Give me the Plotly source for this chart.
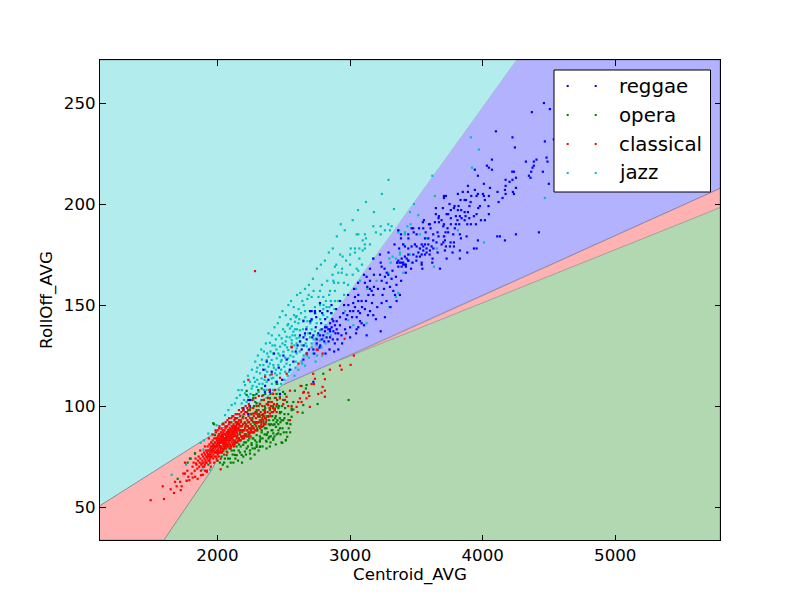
import plotly.graph_objects as go

X_RANGE = [1114, 5790]
Y_RANGE = [33.7, 271.3]
X_TICKS = [2000, 3000, 4000, 5000]
Y_TICKS = [50, 100, 150, 200, 250]
X_LABEL = "Centroid_AVG"
Y_LABEL = "RollOff_AVG"
GENRES = ["reggae", "opera", "classical", "jazz"]

# decision regions (feature-space vertices)
region_jazz = [(1114, 271.3), (4258, 271.3), (2494, 110.4), (2109, 92), (1114, 50.7)]
region_reggae = [(4258, 271.3), (5790, 271.3), (5790, 207.7), (2924, 122.8), (2494, 110.4)]
region_classical_low = [(1114, 50.7), (2109, 92), (1966, 69.3), (1597, 33.7), (1114, 33.7)]
region_classical_high = [(2924, 122.8), (5790, 207.7), (5790, 198.2)]
region_opera = [(1597, 33.7), (1966, 69.3), (2109, 92), (2494, 110.4), (2924, 122.8), (5790, 198.2), (5790, 33.7)]

reggae = [
(4100,236),(4225,233),(4243,228),(4469,231),(4482,223),(4489,221),(4406,222),(4386,221),(4326,221),(4386,219),
(4376,218),(4366,216),(4454,216),(4349,214),(4361,213),(4499,210),(4070,222),(4032,219),(4047,218),(4070,217),
(3941,217),(3964,214),(4223,216),(4236,216),(4251,213),(4225,212),(4203,211),(4173,212),(4173,209),(4168,207),
(4173,205),(4112,206),(4150,203),(4120,201),(4228,206),(4251,208),(4236,205),(4009,210),(4055,208),(3889,209),
(3941,207),(3889,206),(3964,205),(3954,204),(4002,205),(4009,204),(4017,202),(4047,204),(3813,205),(3723,204),
(3708,204),(3708,203),(3914,204),(3874,202),(3864,202),(3833,202),(3909,201),(3818,199),(3788,199),(3783,198),
(3760,197),(3647,198),(3979,199),(3967,198),(4044,199),(3864,196),(3889,196),(3838,197),(3813,197),(3954,195),
(4047,195),(3647,195),(3670,194),(3728,195),(3740,195),(3760,193),(3798,194),(3828,194),(3841,193),(3871,194),
(3899,193),(3934,194),(3667,193),(3690,192),(3670,191),(3557,192),(3549,191),(3595,190),(3602,190),(3552,188),
(3607,188),(3708,190),(3703,189),(3760,190),(3798,190),(3823,190),(3864,192),(3884,190),(3911,190),(3949,190),
(3987,192),(4017,192),(3464,188),(3476,188),(3735,188),(3740,186),(3660,186),(3627,185),(3667,184),(3708,184),
(3778,185),(3828,185),(3836,183),(3879,184),(3502,185),(3439,185),(3384,185),(3384,183),(3363,187),(3565,183),
(3590,183),(3627,182),(3715,182),(3652,181),(3703,181),(3690,180),(3758,181),(3783,181),(3964,182),(4110,184),
(4130,184),(4168,182),(4251,185),(4424,186),(3954,178),(3934,178),(3884,176),(3828,177),(3828,173),(3753,179),
(3783,179),(3723,179),(3715,177),(3773,176),(3728,173),(3678,168),(3622,173),(3620,171),(3540,180),(3565,180),
(3590,180),(3615,179),(3577,178),(3552,179),(3527,178),(3502,179),(3489,180),(3464,179),(3439,178),(3414,179),
(3628,178),(3602,177),(3577,176),(3552,177),(3515,176),(3540,175),(3565,175),(3527,174),(3502,174),(3477,175),
(3439,175),(3414,174),(3389,173),(3364,172),(3376,171),(3401,171),(3427,173),(3439,172),(3421,170),(3401,170),
(3364,169),(3356,171),(3389,169),(3421,169),(3472,171),(3540,171),(3540,170),(4462,250),(4371,245.5),(4507,247),
(4537,232),(3175,173),(3231,171),(3238,169),(3276,166),(3288,165),(3263,164),(3313,163),(3346,164),(3356,171),
(3389,171),(3414,170),(3439,172),(3125,164),(3150,162),(3112,161),(3130,159),(3150,158),(3180,159),(3163,157),
(3138,155),(3175,155),(3226,165),(3238,162),(3276,161),(3256,158),(3301,159),(3326,157),(3339,155),(3376,155),
(3351,152),(3062,155),(3037,154),(3087,152),(3062,152),(3024,151),(3238,151),(3205,149),(3150,147),(3112,148),
(3175,145),(3263,144),(2987,150),(3000,147),(3037,149),(3062,147),(3075,146),(3024,147),(3050,144),(2979,145),
(2949,146),(3087,141),(3105,140),(3050,138),(3062,139),(3231,137),(3125,135),(2924,144),(2899,142),(2874,142),
(2849,141),(2823,139),(2886,140),(2861,139),(2836,138),(2899,138),(2924,140),(2962,138),(3000,139),(2811,137),
(2786,138),(2874,137),(2849,137),(2798,135),(2773,135),(2823,134),(2849,134),(2911,128),(2710,147),(2735,147),
(2773,151),(2698,136),(2723,135),(2648,134),(2673,133),(2622,132),(2748,133),(2786,133),(2698,147),(2735,146),
(2773,147),(2648,142),(2710,143),(2622,135),(2660,136),(2811,139),(2849,138),(2748,131),(2723,128),(2673,126),
(2635,128),(2497,125),(2426,126),(2371,122),(2346,118),(2409,117),(2384,113),(2447,112),(2359,110),(2396,108),
(2233,103),(2245,100),(2195,99),(2723,112),(2522,123),(2572,122),(2358,107),(2395,107),(2471,106),(2245,103),
(2194,98),(2232,96),(2866,143),(2890,136),(2935,135),(2812,143),(2858,146),(2968,143),(2782,141),(2741,139),
(2905,133),(2838,132),(2885,131),(2769,129),(2648,123),(2604,130),(2590,127),(2545,118),(2488,113),(2462,119),
(2650,130),(2670,138),(2690,128),(2700,142),(2715,134),(2730,126),(2745,144),(2760,136),(2775,130),(2790,146),
(2805,132),(2815,126),(2830,147),(2845,128),(2860,150),(2870,133),(2880,127),(2895,148),(2910,136),(2925,152),
(2940,131),(2955,150),(2970,136),(2985,155),(3000,134),(3015,144),(3030,158),(3045,136),(3060,161),(3075,142),
(3090,149),(3105,165),(3120,152),(3135,145),(3150,168),(3165,151),(3180,165),(3195,143),(3210,158),(3225,175),
(3245,155),(3260,168),(3275,152),(3290,176),(3305,149),(3320,167),(3335,180),(3350,160),(3370,178),(3385,162),
(3400,180),(3420,166),(3440,183),(3460,168),(3480,186),(3500,172),(3520,188),(3545,168),(3570,186),(3600,175),
(3640,191),(3660,176),(3700,198),(3720,186),(3750,200),(3790,188),(3810,192),(3850,206),(3900,199),
]

opera = [
(2989,103),(2755,101),(2642,96.7),(2559,94.7),(2534,96),(2526,91.4),(2572,98.3),(2496,93),(2459,91),(2476,86),
(2446,86),(2421,84),(2391,84.8),(2526,84.8),(2516,83),(2489,81.8),(2366,82.8),(2320,83),(2295,79.8),(2320,79.8),
(2258,80.7),(2371,86),(2408,88),(2441,89.7),(2396,90.6),(2358,89),(2333,87),(2295,85.6),(2265,84),(2471,94),
(2421,93),(2383,94.7),(2346,93),(2308,94.7),(2270,96.3),(2433,98),(2471,97),(2396,98.8),(2346,98),(2295,98),
(2672,110.4),(2667,108.7),(2584,107.6),(2634,109.9),(2572,102),(2559,98.8),(2647,100.5),(2798,116),(2509,106),(2471,104.6),
(2496,103),(2446,106),(2396,103.8),(2346,105.4),(2308,107.9),(2270,105.4),(2333,108.7),(2446,111),(2220,107.5),(1968,91.5),
(2132,94),(2516,83.3),(2483,82),(2321,80),(2282,79),(2245,78),(2207,77.5),(2182,75.8),(2132,75.8),(2094,74),
(2056,74),(2144,80),(2107,78),(2069,77.5),(2194,80.8),(2257,81.6),(2320,82.4),(2370,82.4),(2421,83.3),(2458,86.5),
(2421,86.5),(2370,85.7),(2320,85),(2270,84),(2232,83),(2471,89),(2521,91.5),(2483,93),(2421,90.7),(2370,89),
(2333,88),(2295,97),(2320,94.8),(2358,96.5),(2395,98),(2446,99.8),(2471,96.5),(2257,93),(2207,91.5),(2157,91.5),
(2333,103),(2295,101.4),(2383,102),(2433,104),(2031,75),(1931,71),(1830,76.6),(1792,74),(1956,78),(2019,80),
(2132,89),(2144,92),(2194,94.8),(2232,98),(2270,104),(2295,106),(2220,105.5),(1700,64),(1775,72),(1798,74),
(1831,76.5),(2019,72),(2069,75.7),(2145,75.7),(2245,76.5),(2296,80.6),(2220,79),(2170,77),(2125,78),(1981,85.6),
(1974,91),(2044,91.4),(2082,87),(2145,89),(2007,81.5),(2170,83),(2202,82),(2237,86),(2258,87),(2284,83),
(2300,88),(2312,90),(2340,84),(2352,91),(2365,92),(2380,87),(2402,85),(2414,95),(2430,91),(2452,93),
(2282,91),(2303,92),(2238,89),(2225,90),(2212,85),(2190,84),(2163,81),(2118,81),(2090,79),(2066,81),
(2045,78),(2030,77),(2345,95),(2387,91),(2405,100),(2440,95),(2459,99),(2378,104),(2355,100),(2322,101),
(2275,100),(2248,99),(2263,94),(2488,100),(2505,96),(2537,89),(2548,87),(2500,87),(2440,81),(2395,80),
(2050,72),(2075,70),(2100,72),(2115,76),(2135,74),(2155,73),(2175,80),(2195,75),(2215,76),(2230,80),
(2250,74),(2265,79),(2280,76),(2295,82),(2310,78),(2325,84),(2340,80),(2355,86),(2370,79),(2385,84),
(2400,82),(2415,88),(2430,85),(2445,92),(2460,88),(2475,92),(2490,89),(2505,94),(2520,87),(2535,93),
(2550,91),(2560,98),(2240,84),(2255,89),(2270,87),(2285,92),(2300,89),(2315,96),(2330,92),(2345,90),
(2360,99),(2375,95),(2390,93),(2405,91),(2420,97),(2435,94),(2450,101),(2465,100),(2480,97),(2495,107),
(2510,99),(2525,102),(2120,72),(2160,78),(2185,72),(2215,82),(2205,86),(2190,88),(2170,87),(2150,85),
(2130,82),(2110,84),(2090,83),(2070,84),(2050,82),(2030,85),(2010,86),(1995,84),(1980,82),(2000,73),
(2040,71),(2080,74),(2230,92),(2250,96),(2270,92),(2285,102),(2310,100),(2360,106),(2400,106),(2420,100),(2450,103),
]

classical = [
(2283,166.8),(1496,53.4),(1597,54),(1587,60.3),(1672,57),(1647,58.8),(1723,58.4),(1692,60.3),(1730,60.3),(1680,62.5),
(1718,62.5),(1768,63),(1788,63.3),(1813,64.6),(1831,65),(1780,65),(1755,66.6),(1805,66.6),(1773,68),(1743,66.6),
(1876,65.8),(1919,67.4),(2024,68.7),(1755,72),(1838,71.6),(1881,71.6),(1906,68),(2810,104.6),(2760,106),(2785,106.6),
(2810,107.6),(2793,109.5),(2810,113.3),(2735,113.5),(2710,110.9),(2727,110.9),(2627,110),(2848,118),(2936,118),(2697,99.6),
(2692,105),(2672,103.8),(2685,106.6),(2647,106.6),(2634,102),(2622,103.8),(2609,102),(2597,99.6),(2559,100),(2534,100),
(2604,97),(2547,93),(2547,107.6),(2521,104.6),(2509,103),(2496,101),(2471,103.8),(2446,100.5),(2433,98.8),(2446,97),
(2383,100.5),(2396,96.3),(2358,97),(2333,95.5),(2320,93),(2283,96.3),(2258,93),(2295,91.4),(2333,89.7),(2270,88.9),
(2245,86.5),(2295,88),(2358,94),(2959,133.3),(3029,125),(3004,120.4),(2924,120),(2755,127.7),(2793,126),(2722,116),
(2652,107),(2559,129.3),(2610,121),(2409,115.7),(2233,113),(2195,98),(2359,114.5),(2560,129),(2673,126),(2748,128),
(2434,108),(2391,108),(2472,114),(2522,116),
(1812,70),(1820,72),(1828,68),(1835,74),(1842,71),(1848,69),(1853,73),(1858,75),(1862,70),(1866,72),
(1871,74),(1875,68),(1878,71),(1882,76),(1886,73),(1889,70),(1892,75),(1895,72),(1898,77),(1901,74),
(1904,71),(1907,76),(1910,73),(1913,78),(1916,75),(1918,72),(1921,77),(1924,74),(1926,80),(1929,76),
(1932,73),(1934,78),(1937,75),(1939,81),(1942,77),(1944,74),(1947,79),(1949,76),(1952,82),(1954,78),
(1957,75),(1959,80),(1961,77),(1964,83),(1966,79),(1969,76),(1971,81),(1973,78),(1976,84),(1978,80),
(1980,77),(1983,82),(1985,79),(1987,75),(1989,84),(1992,81),(1994,78),(1996,83),(1998,80),(2001,76),
(2003,85),(2005,82),(2007,79),(2009,84),(2011,81),(2013,77),(2015,86),(2017,83),(2019,80),(2021,85),
(2023,78),(2025,82),(2027,87),(2029,84),(2031,80),(2033,86),(2035,83),(2037,79),(2039,88),(2041,85),
(2043,81),(2045,87),(2047,83),(2049,79),(2051,84),(2053,88),(2055,81),(2057,86),(2059,83),(2061,89),
(2063,80),(2065,85),(2067,82),(2069,87),(2071,84),(2073,90),(2075,81),(2077,86),(2079,83),(2081,88),
(2083,85),(2085,82),(2087,91),(2089,87),(2091,84),(2093,89),(2095,81),(2097,86),(2099,83),(2101,88),
(2103,92),(2105,85),(2107,82),(2109,90),(2111,87),(2113,84),(2115,89),(2117,86),(2119,83),(2121,91),
(2123,88),(2125,85),(2127,93),(2129,90),(2131,86),(2133,83),(2135,88),(2137,92),(2139,85),(2141,90),
(2143,87),(2145,84),(2147,94),(2149,89),(2151,86),(2154,91),(2157,88),(2160,84),(2163,93),(2166,90),
(2169,86),(2172,95),(2175,88),(2178,92),(2181,85),(2184,90),(2187,87),(2190,94),(2193,91),(2196,88),
(2199,96),(2202,85),(2205,92),(2208,89),(2211,86),(2214,94),(2217,91),(2220,88),(2223,97),(2226,93),
(2229,90),(2232,87),(2235,95),(2238,92),(2241,89),(2244,98),(2247,94),(2250,91),(2254,88),(2258,96),
(2262,93),(2266,90),(2270,99),(2274,95),(2278,92),(2282,88),(2286,97),(2290,94),(2295,100),(2300,96),
(2305,92),(2310,98),(2315,95),(2320,101),(2326,97),(2332,93),(2338,100),(2344,96),(2350,103),(2357,98),
(2364,94),(2371,101),(2378,97),(2385,104),(2393,99),(2401,95),(2410,102),(2420,106),(2430,98),(2440,104),
(1981,80),(1990,77),(1995,80),(2000,82),(2004,78),(2008,81),(2012,83),(2016,80),(2020,82),(2024,84),
(2028,82),(2032,83),(2036,85),(2040,82),(2044,84),(2048,86),(2052,82),(2056,84),(2060,86),(2064,83),
(2068,85),(2072,87),(2076,84),(2080,86),(2084,88),(2088,85),(2092,87),(2096,84),(2100,86),(2104,88),
(2108,85),(2112,89),(2116,87),(2120,88),(2124,90),(2128,87),(2132,89),(2136,90),(2140,88),(2144,91),
(2148,87),(2152,89),(2156,92),(2160,89),(2164,91),(2168,88),(2172,90),(2176,93),(2180,90),(2184,88),
(1945,72),(1955,78),(1965,81),(1975,80),(1950,80),(1940,76),(1930,78),(1920,75),(1912,72),(1900,70),
(1850,64),(1870,78),(1890,66),(1905,80),(1920,68),(1935,84),(1950,70),(1962,86),(1975,72),(1988,87),
(2000,73),(2012,89),(2025,74),(2037,91),(2050,76),(2062,92),(2075,77),(2087,94),(2100,79),(2112,95),
(2125,80),(2137,96),(2150,82),(2162,98),(2175,83),(2187,99),(2200,84),(2212,100),(2225,85),(2237,101),
(2250,85),(2262,103),(2275,87),(2287,104),(2300,88),(2312,105),(2325,90),(2337,105),(2350,91),
(1940,73),(1952,75),(1968,74),(1978,75),(1986,77),(1993,74),(2002,77),(2010,75),(2018,77),(2026,79),
(2034,77),(2042,78),(2050,80),(2058,79),(2066,79),(2074,80),(2082,80),(2090,81),(2098,80),(2106,80),
(2114,81),(2122,82),(2130,81),(2138,82),(2146,82),(2154,83),(2162,84),(2170,83),(2178,85),(2186,84),
(2194,85),(2202,88),(2210,90),(2218,86),(2226,88),(2234,85),(2242,87),(2250,88),(2258,90),(2266,87),
(2274,89),(2282,92),(2290,90),(2298,92),(2306,95),(2314,92),(2322,89),(2330,91),(2338,94),(2346,92),
(2354,95),(2362,91),(2370,93),(2378,101),(2386,95),(2394,102),(2402,100),(2410,97),(2418,99),(2426,101),
(1985,88),(2000,88),(2015,90),(2030,89),(2045,91),(2060,90),(2075,93),(2090,92),(2105,94),(2120,95),
(2135,94),(2150,96),(2165,96),(2180,97),(2195,98),(2210,97),(2225,99),(2240,100),
]

jazz = [
(3288,190),(3313,189),(3231,189),(3263,187),(3301,187),(3195,186),(3231,185),(3175,189),(3050,185),(3062,185),
(3112,185),(3120,183),(3095,182),(3150,180),(3112,180),(3070,178),(3037,178),(3095,177),(3112,178),(3037,176),
(3000,175),(2944,174),(3070,173),(3175,173),(3050,168),(3062,167),(2886,169),(3000,170),(2937,166),(2911,166),
(2974,165),(2874,162),(2879,161),(2911,161),(2954,161),(2849,157),(2886,157),(2773,157),(2710,154),(2678,153),
(2798,154),(2818,152),(2854,152),(2886,152),(2823,149),(2844,149),(2798,148),(2773,150),(2735,149),(2660,147),
(2698,147),(2617,143),(2592,144),(2648,142.5),(2678,142),(2710,142.5),(2748,141),(2798,145),(2828,144),(2861,146),
(2560,139.5),(2585,138),(2622,137.5),(2673,139),(2710,138),(2735,137),(2773,137.5),(2585,135),(2617,134),(2660,135),
(2698,134),(2743,133.5),(2773,132.5),(2798,133.5),(2560,131),(2597,131),(2635,130),(2673,129.6),(2710,131),(2748,130),
(3364,186),(3414,185),(3296,173),(3376,176),(3306,171),(3288,166),(3401,166),(3200,162),(3130,158),(3346,154),
(3364,156),(3296,149),(3125,141),(3024,140),(2987,142.5),(2962,147),(3911,233),(3972,227),(3919,218),(3620,214),
(3640,204),(3482,200),(3331,197.5),(3452,196),(3515,194.5),(4469,203),(3813,187),(3457,190),(3432,189),(3414,186),
(3371,187),(3577,183),(3527,185),(3715,184),(4010,181),(3653,178),(3406,180),(3489,180),(3527,178),(3452,175),
(3376,175),(3321,174),(3346,173),(3464,171),(3633,169),(2597,144.5),(2534,140.6),(2585,141.7),(2547,138.4),(2509,136.8),
(2572,136.8),(2484,133.5),(2522,134.3),(2560,132.6),(2597,133.5),(2434,130),(2396,131.3),(2472,129.4),(2509,130.2),(2560,129.4),
(2597,128.5),(2421,126),(2459,126),(2497,126.9),(2534,127.7),(2597,126),(2384,124.4),(2371,122.8),(2409,122.8),(2447,123.6),
(2484,122.8),(2534,123.6),(2572,124.4),(2321,120.3),(2346,120.3),(2384,119.5),(2421,120.3),(2459,120.3),(2504,119.5),(2547,120.3),
(2296,117),(2321,116.2),(2359,115.3),(2396,115.3),(2434,116.2),(2472,116.2),(2333,113.7),(2371,112),(2409,113.7),(2447,115.3),
(2283,112),(2245,112),(2208,110.4),(2158,107.9),(2183,107.9),(2258,108.7),(2296,109.5),(2170,105.4),(2208,106.3),(2233,104.6),
(2283,105.4),(2107,100.5),(2132,101.3),(2183,101.3),(2220,102.1),(2271,103),(2082,98),(2057,95.5),(1655,66),(1768,63),
(1763,71),(1888,68.6),(1893,78.5),(1873,81.8),(1898,83),(1931,86.4),(1964,85.6),(1994,90.5),(2069,89.7),(2089,92),
(1974,77.8),(1956,81.8),(1944,68.6),(2610,141),(2630,146),(2645,138),(2665,131),(2685,136),(2725,133),(2755,135),
(2785,129),(2815,131),(2830,136),(2470,125),(2510,124),(2550,125),(2580,130),(2620,127),(2650,125),(2400,127),
(2445,128),(2490,131),(2525,129),(2545,134),(2565,127),(2590,122),(2360,118),(2410,111),(2440,118),(2480,118),
(2520,121),(2300,113),(2340,111),(2375,117),(2420,114),(2265,110),(2310,107),(2350,108),(2145,104),(2200,103),
(2200,112),(2230,115),(2260,118),(2285,122),(2305,125),(2330,128),(2350,127),(2365,131),(2385,136),(2410,135),
(2430,139),(2455,141),(2470,144),(2490,147),(2515,145),(2535,150),(2555,152),(2575,149),(2600,155),(2625,156),
(2640,152),(2660,158),(2690,160),(2720,163),(2750,168),(2780,170),(2810,172),(2840,176),(2870,178),(2900,184),
(2930,190),(2960,187),(3020,192),(3060,197),(3120,201),(3180,196),(3240,205),(3290,212),
(2250,106),(2275,114),(2300,119),(2315,111),(2335,123),(2355,113),(2375,126),(2395,121),(2415,130),(2425,119),
(2440,133),(2452,111),(2465,135),(2478,122),(2495,138),(2505,113),(2515,132),(2528,140),(2540,117),(2552,143),
(2565,135),(2578,145),(2588,119),(2600,138),(2612,148),(2625,132),(2638,121),(2650,150),(2662,144),(2675,125),
(2688,155),(2700,141),(2712,129),(2725,157),(2738,146),(2750,125),(2762,154),(2775,143),(2788,160),(2800,150),
(2815,140),(2828,162),(2842,155),(2855,135),(2868,165),(2882,148),(2896,170),(2910,152),(2925,175),(2940,168),
(2955,155),(2970,172),(2985,160),(3005,178),(3020,165),(3045,158),(3075,162),(3090,170),
(2370,108),(2395,104),(2420,108),(2440,112),(2465,108),(2480,111),(2510,117),(2530,115),(2555,118),(2580,115),
(2610,118),(2635,122),(2660,120),(2690,124),(2720,126),(2740,122),(2760,128),(2790,125),
]

BG = {"jazz": "#b2ecec", "reggae": "#b2b2ff", "classical": "#ffb2b2", "opera": "#b2d8b2"}
DOT = {"reggae": "#0000ff", "opera": "#008000", "classical": "#ff0000", "jazz": "#00bfbf"}
FONT = "DejaVu Sans"


def xs(pts):
    return [p[0] for p in pts]


def ys(pts):
    return [p[1] for p in pts]


fig = go.Figure()

for pts, key in [(region_jazz, "jazz"), (region_reggae, "reggae"),
                 (region_classical_low, "classical"), (region_classical_high, "classical"),
                 (region_opera, "opera")]:
    fig.add_trace(go.Scatter(
        x=xs(pts), y=ys(pts), mode="lines", fill="toself", fillcolor=BG[key],
        line=dict(color="rgba(60,70,90,0.45)", width=0.8),
        hoverinfo="skip", showlegend=False))

for pts, key in [(jazz, "jazz"), (reggae, "reggae"), (opera, "opera"), (classical, "classical")]:
    fig.add_trace(go.Scatter(
        x=xs(pts), y=ys(pts), mode="markers", name=key, showlegend=False,
        marker=dict(symbol="square", size=2.2, color=DOT[key], line=dict(width=0))))

# legend box with two key dots per entry, as in the original
# (page coordinates of the plot frame; the page body adds an 8px margin)
PLOT_L, PLOT_T, PLOT_W, PLOT_H = 100, 60, 620, 480


def px(v):
    return (v - PLOT_L) / PLOT_W


def py(v):
    return 1 - (v - PLOT_T) / PLOT_H


shapes = [dict(type="rect", xref="paper", yref="paper", x0=px(554), x1=px(710.5), y0=py(192), y1=py(70),
               fillcolor="white", line=dict(color="black", width=1), layer="above")]
annotations = []
for name, row_y in zip(GENRES, [86, 115, 144, 173]):
    for dot_x in (567.7, 595.7):
        shapes.append(dict(type="rect", xref="paper", yref="paper",
                           x0=px(dot_x - 1), x1=px(dot_x + 1), y0=py(row_y + 1), y1=py(row_y - 1),
                           fillcolor=DOT[name], line=dict(width=0), layer="above"))
    annotations.append(dict(xref="paper", yref="paper", x=px(617), y=py(row_y), text=name, showarrow=False,
                            xanchor="left", yanchor="middle", font=dict(family=FONT, size=19.8, color="black")))

axis = dict(showgrid=False, zeroline=False, showline=True, mirror="allticks", linecolor="black", linewidth=1,
            ticks="inside", ticklen=5.5, tickwidth=1, tickcolor="black",
            tickfont=dict(family=FONT, size=16.67, color="black"))

fig.update_layout(
    width=784, height=584, margin=dict(l=92, r=72, t=52, b=52, pad=0, autoexpand=False),
    paper_bgcolor="white", plot_bgcolor="white", showlegend=False,
    shapes=shapes, annotations=annotations,
    xaxis=dict(axis, range=X_RANGE, tickvals=X_TICKS, ticktext=[str(t) for t in X_TICKS],
               title=dict(text=X_LABEL, font=dict(family=FONT, size=16.67, color="black"), standoff=3)),
    yaxis=dict(axis, range=Y_RANGE, tickvals=Y_TICKS, ticktext=[str(t) for t in Y_TICKS],
               title=dict(text=Y_LABEL, font=dict(family=FONT, size=16.67, color="black"), standoff=7)),
)

fig.write_html("out.html")
